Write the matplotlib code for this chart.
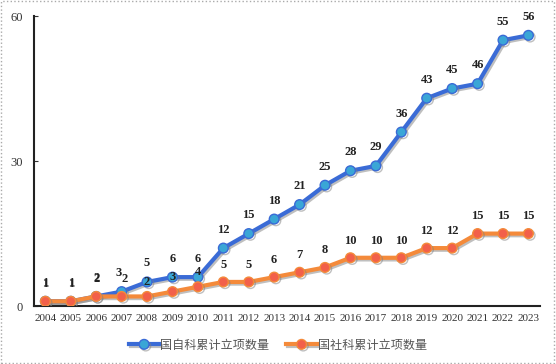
import matplotlib
matplotlib.use("Agg")
import matplotlib.pyplot as plt
import matplotlib.patheffects as pe
from matplotlib.patches import Rectangle

years = [str(y) for y in range(2004, 2024)]
nsfc = [1, 1, 2, 3, 5, 6, 6, 12, 15, 18, 21, 25, 28, 29, 36, 43, 45, 46, 55, 56]
nssf = [1, 1, 2, 2, 2, 3, 4, 5, 5, 6, 7, 8, 10, 10, 10, 12, 12, 15, 15, 15]
series_names = ["国自科累计立项数量", "国社科累计立项数量"]

plt.rcParams['font.family'] = ['Liberation Serif', 'DejaVu Serif']

fig = plt.figure(figsize=(5.56, 3.64), dpi=100)
ax = fig.add_axes([0.061, 0.159, 0.910, 0.797])

shadow = [pe.SimpleLineShadow(offset=(1.2, -1.2), shadow_color='gray', alpha=0.5), pe.Normal()]
x = list(range(len(years)))

ax.plot(x, nsfc, color='#3A6BD6', lw=3, marker='o', ms=7, mfc='#3AA6D6',
        mec='#3A6BD6', mew=1, label=series_names[0], path_effects=shadow, zorder=3)
ax.plot(x, nssf, color='#F48A3A', lw=3, marker='o', ms=7, mfc='#F2604A',
        mec='#F48A3A', mew=1, label=series_names[1], path_effects=shadow, zorder=4)

# where the two series are close the labels crowd each other (as in the original)
for i in x:
    gap = nsfc[i] - nssf[i]
    dx, dy = 0, 8
    if 0 < gap <= 1:
        dx = -2
    elif 0 < gap <= 3:
        dx, dy = 0, 6
    ax.annotate(str(nsfc[i]), (i, nsfc[i]), xytext=(dx, 9), textcoords='offset points',
                ha='center', va='bottom', fontsize=9, fontweight='bold', color='#222222')
    ax.annotate(str(nssf[i]), (i, nssf[i]), xytext=(-dx, dy), textcoords='offset points',
                ha='center', va='bottom', fontsize=9, fontweight='bold', color='#222222')

ax.set_xlim(-0.45, 19.45)
ax.set_ylim(0, 60)
ax.set_yticks([0, 30, 60])
ax.set_xticks(x)
ax.set_xticklabels(years)
ax.tick_params(axis='y', direction='in', length=3, labelsize=9, colors='#333333', pad=8)
ax.tick_params(axis='x', length=0, labelsize=8, colors='#333333', pad=6)
for s in ['top', 'right']:
    ax.spines[s].set_visible(False)
for s in ['left', 'bottom']:
    ax.spines[s].set_linewidth(1.5)
    ax.spines[s].set_color('#222222')

leg = fig.legend(loc='center', bbox_to_anchor=(0.5, 0.052), ncol=2, frameon=False,
                 prop={'family': ['Noto Sans CJK SC', 'DejaVu Sans'], 'size': 8.7},
                 handlelength=2.5, handletextpad=0.1, columnspacing=1.4)
for t in leg.get_texts():
    t.set_color('#555555')

fig.patches.append(Rectangle((0.002, 0.003), 0.995, 0.994, transform=fig.transFigure,
                             fill=False, ec='#AAAAAA', lw=1, ls=':'))

fig.savefig('out.png', dpi=100)
